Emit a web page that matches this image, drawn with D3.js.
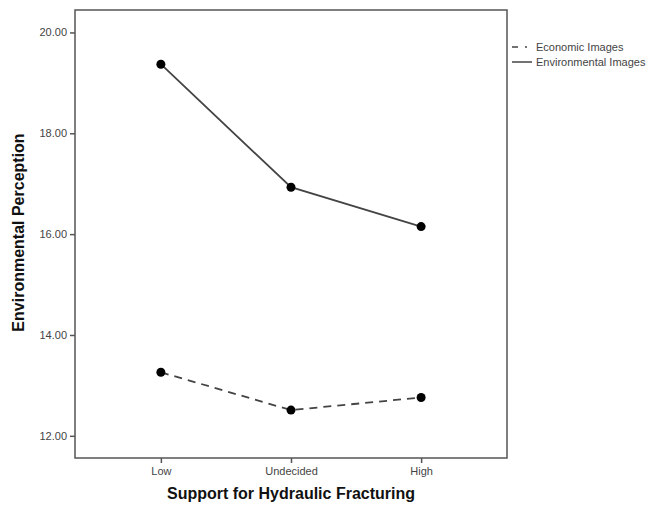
<!DOCTYPE html>
<html><head><meta charset="utf-8">
<script src="https://cdn.jsdelivr.net/npm/d3@7"></script>
<style>body{margin:0;background:#fff;}svg{display:block;font-family:Arial,"Liberation Sans",sans-serif;}</style>
</head><body><svg id="c" width="650" height="506"></svg>
<script>
const categories = ["Low", "Undecided", "High"];
const economicValues = [13.26, 12.51, 12.76];
const environmentalValues = [19.37, 16.93, 16.15];
const yTicks = [12, 14, 16, 18, 20];
const seriesNames = ["Economic Images", "Environmental Images"];

const svg = d3.select("#c");
const L = 75, R = 507, T = 10, B = 458;
const x = d3.scalePoint().domain(categories).range([L, R]).padding(0.66);
const y = d3.scaleLinear().domain([11.56, 20.445]).range([B, T]);

svg.append("rect").attr("x", L).attr("y", T).attr("width", R - L).attr("height", B - T)
  .attr("fill", "none").attr("stroke", "#555").attr("stroke-width", 1.5);

const ya = svg.append("g").attr("transform", `translate(${L},0)`)
  .call(d3.axisLeft(y).tickValues(yTicks).tickFormat(d3.format(".2f")).tickSize(5).tickPadding(3));
const xa = svg.append("g").attr("transform", `translate(0,${B})`)
  .call(d3.axisBottom(x).tickSize(5).tickPadding(4));
[ya, xa].forEach(a => {
  a.select(".domain").remove();
  a.selectAll("line").attr("stroke", "#555").attr("stroke-width", 1.5);
  a.selectAll("text").attr("fill", "#444").style("font-size", "11px");
});

const line = d3.line().x((d, i) => x(categories[i])).y(d => y(d));
svg.append("path").datum(economicValues).attr("d", line).attr("fill", "none")
  .attr("stroke", "#444").attr("stroke-width", 1.8).attr("stroke-dasharray", "8,6");
svg.append("path").datum(environmentalValues).attr("d", line).attr("fill", "none")
  .attr("stroke", "#444").attr("stroke-width", 1.8);

[economicValues, environmentalValues].forEach(vals => {
  svg.selectAll(null).data(vals).enter().append("circle")
    .attr("cx", (d, i) => x(categories[i])).attr("cy", d => y(d)).attr("r", 4.5).attr("fill", "#000");
});

// axis titles
svg.append("text").attr("x", 291).attr("y", 499).attr("text-anchor", "middle")
  .style("font-size", "16px").style("font-weight", "bold").attr("fill", "#111")
  .text("Support for Hydraulic Fracturing");
svg.append("text").attr("transform", `translate(24,232.5) rotate(-90)`).attr("text-anchor", "middle")
  .style("font-size", "16px").style("font-weight", "bold").attr("fill", "#111")
  .text("Environmental Perception");

// legend
const leg = svg.append("g");
seriesNames.forEach((name, i) => {
  const yy = 47 + i * 15;
  leg.append("line").attr("x1", 512).attr("x2", 532).attr("y1", yy).attr("y2", yy)
    .attr("stroke", "#444").attr("stroke-width", 1.5)
    .attr("stroke-dasharray", i === 0 ? "6,7,2,10" : null);
  leg.append("text").attr("x", 536).attr("y", yy + 4).style("font-size", "11px").attr("fill", "#444")
    .text(name);
});
</script></body></html>
